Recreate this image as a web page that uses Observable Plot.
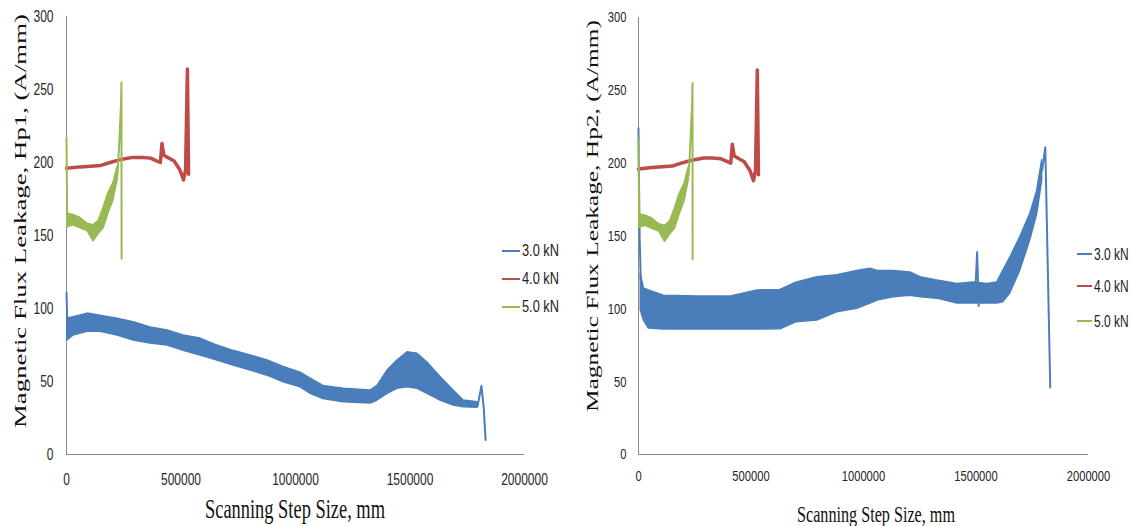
<!DOCTYPE html>
<html><head><meta charset="utf-8">
<script src="https://cdn.jsdelivr.net/npm/d3@7"></script>
<script src="https://cdn.jsdelivr.net/npm/@observablehq/plot@0.6"></script>
<style>
body{margin:0;background:#fff;}
#wrap{position:relative;width:1132px;height:526px;display:flex;overflow:hidden;}
.leg{position:absolute;height:18px;font-family:"Liberation Sans",Arial,sans-serif;color:#222;display:flex;align-items:center;white-space:nowrap;}
.leg .l{display:inline-block;height:2px;margin-right:2px;}
.leg .t{display:inline-block;transform:scale(0.8,1.08);transform-origin:left center;}
</style></head><body><div id="wrap"></div>
<script>
// ---- shared ticks / labels ----
const xTicks = [0, 500000, 1000000, 1500000, 2000000];
const yTicks = [0, 50, 100, 150, 200, 250, 300];
const seriesNames = ["3.0 kN", "4.0 kN", "5.0 kN"];
const seriesColors = ["#4a7ebb", "#be4b48", "#98b954"];
const xTitle = "Scanning Step Size, mm";
const yTitle1 = "Magnetic Flux Leakage, Hp1, (A/mm)";
const yTitle2 = "Magnetic Flux Leakage, Hp2, (A/mm)";

// ---- Hp1, 3.0 kN (noisy band: lower / upper envelope) ----
const hp1_30_x  = [3000, 31000, 92000, 148000, 223000, 293000, 367000, 441000, 511000, 585000, 659000, 729000, 804000, 878000, 948000, 1022000, 1066000, 1122000, 1210000, 1328000, 1358000, 1402000, 1445000, 1489000, 1533000, 1576000, 1633000, 1690000, 1734000, 1795000];
const hp1_30_hi = [93, 94, 96.5, 95, 93, 90.6, 87, 85, 81.5, 79.4, 74.6, 71, 67.8, 64.4, 60, 56, 52, 47, 45, 43.8, 47, 57.5, 64.4, 70, 69, 63, 53, 43.8, 37, 35.8];
const hp1_30_lo = [78, 81.5, 84, 84, 81.5, 78, 76, 74.6, 71, 67.8, 64.4, 61, 57.5, 54, 49.5, 46, 41.6, 38, 35.8, 34.9, 37, 41.6, 45, 46, 45, 41.6, 37, 33.6, 32.4, 32];
const hp1_30_tx = [0, 3000, 6000, 1795000, 1812000, 1822000, 1830000];
const hp1_30_ty = [111, 93, 80, 33, 47, 32, 10];
const hp1_30_seg = [0, 0, 0, 1, 1, 1, 1];

// ---- Hp2, 3.0 kN ----
const hp2_30_x  = [10000, 24000, 46000, 112000, 263000, 410000, 529000, 631000, 701000, 794000, 883000, 972000, 1031000, 1062000, 1133000, 1208000, 1253000, 1328000, 1417000, 1488000, 1550000, 1594000, 1621000, 1652000, 1696000, 1741000, 1772000, 1794000];
const hp2_30_hi = [124, 114, 112.6, 109, 108.4, 108.4, 112.6, 113, 118, 121.7, 123, 126, 127.6, 126, 126, 125, 121.7, 119.4, 117, 118, 117, 118, 126, 135, 149, 165, 181, 202];
const hp2_30_lo = [99, 92, 86.5, 85.8, 85.8, 85.8, 85.8, 86, 90.8, 92, 97.7, 100, 103.6, 105.7, 108, 109, 108, 107, 103.6, 103.6, 103.6, 103.6, 104.5, 110.5, 126, 147, 165, 188];
const hp2_30_tx = [0, 2000, 5000, 10000, 15000, 1495000, 1505000, 1512000, 1794000, 1808000, 1830000];
const hp2_30_ty = [224, 190, 150, 120, 112, 106, 139, 102, 195, 211, 46];
const hp2_30_seg = [0, 0, 0, 0, 0, 1, 1, 1, 2, 2, 2];

// ---- 4.0 kN (same in both panels) ----
const kn40_x = [0, 60000, 150000, 190000, 236000, 290000, 330000, 367000, 395000, 410000, 417000, 425000, 441000, 470000, 495000, 511000, 520000, 528000, 533000];
const kn40_y = [196, 197, 198, 200, 202, 203.5, 203.5, 203, 201, 200, 213, 205, 203.5, 201, 195, 188, 195, 264, 192];

// ---- 5.0 kN (same in both panels) ----
const kn50_bx = [3000, 31000, 61000, 92000, 118000, 140000, 162000, 183000, 205000, 223000];
const kn50_lo = [155.5, 157, 155, 153, 146, 151, 155, 165, 174, 188];
const kn50_hi = [165, 164, 162, 158, 157, 160, 169, 179, 186, 197];
const kn50_tx = [0, 3000, 31000, 61000, 92000, 118000, 140000, 162000, 183000, 205000, 223000, 231000, 238000, 240000, 240500];
const kn50_ty = [217, 160, 160, 158, 155, 152, 155, 162, 172, 180, 192, 215, 240, 255, 134];

const band = (xs, lo, hi) => xs.map((x, i) => ({x, lo: lo[i], hi: hi[i]}));
const pts = (xs, ys, seg) => xs.map((x, i) => ({x, y: ys[i], s: seg ? seg[i] : 0}));

function addTitle(svg, text, cx, cy, size, len, rot) {
  d3.select(svg).append("text")
    .attr("transform", `translate(${cx},${cy})` + (rot ? " rotate(-90)" : ""))
    .attr("text-anchor", "middle")
    .attr("dominant-baseline", "central")
    .attr("font-family", '"Liberation Serif","Times New Roman",serif')
    .attr("font-size", size)
    .attr("fill", "#111")
    .attr("textLength", len)
    .attr("lengthAdjust", "spacingAndGlyphs")
    .text(text);
}

function panel(o) {
  const p = Plot.plot({
    width: 566, height: 526,
    marginLeft: o.ml, marginRight: o.mr, marginTop: o.mt, marginBottom: o.mb,
    x: {domain: [0, 2000000]},
    y: {domain: [0, 300]},
    style: {fontFamily: '"Liberation Sans",Arial,sans-serif', color: "#262626", background: "white", overflow: "visible"},
    marks: [
      Plot.ruleX([0], {stroke: "#8a8a8a", strokeWidth: 1}),
      Plot.ruleY([0], {stroke: "#8a8a8a", strokeWidth: 1}),
      Plot.axisX({ticks: xTicks, tickSize: 0, tickPadding: o.xpad, tickFormat: d => String(d), fontSize: o.fs, label: null}),
      Plot.axisY({ticks: yTicks, tickSize: 0, tickPadding: o.ypad, fontSize: o.fs, label: null}),
      // 3.0 kN
      Plot.areaY(o.blueBand, {x: "x", y1: "lo", y2: "hi", fill: seriesColors[0], stroke: seriesColors[0], strokeWidth: 1.5}),
      Plot.line(o.blueTrace, {x: "x", y: "y", z: "s", stroke: seriesColors[0], strokeWidth: 2}),
      // 4.0 kN
      Plot.line(pts(kn40_x, kn40_y), {x: "x", y: "y", stroke: seriesColors[1], strokeWidth: 3.5}),
      // 5.0 kN
      Plot.areaY(band(kn50_bx, kn50_lo, kn50_hi), {x: "x", y1: "lo", y2: "hi", fill: seriesColors[2], stroke: seriesColors[2], strokeWidth: 1.5}),
      Plot.line(pts(kn50_tx, kn50_ty), {x: "x", y: "y", stroke: seriesColors[2], strokeWidth: 2})
    ]
  });
  // narrow, tall tick labels (Calibri-like look)
  p.querySelectorAll('g[aria-label="x-axis tick label"] text, g[aria-label="y-axis tick label"] text').forEach(t => {
    const tr = t.getAttribute("transform") || "";
    t.setAttribute("transform", tr + " scale(0.8,1.1)");
  });
  addTitle(p, o.ytitle, o.ytx, o.yty, o.ytFs, o.ytLen, true);
  addTitle(p, xTitle, o.xtx, o.xty, o.xtFs, o.xtLen, false);
  return p;
}

const wrap = document.getElementById("wrap");
wrap.appendChild(panel({
  ml: 66, mr: 42, mt: 16, mb: 72, xpad: 19, ypad: 13, fs: 15,
  blueBand: band(hp1_30_x, hp1_30_lo, hp1_30_hi),
  blueTrace: pts(hp1_30_tx, hp1_30_ty, hp1_30_seg),
  ytitle: yTitle1, ytFs: 17, ytLen: 414, ytx: 20, yty: 221,
  xtFs: 27, xtLen: 180, xtx: 295, xty: 509
}));
wrap.appendChild(panel({
  ml: 72, mr: 44, mt: 17, mb: 72, xpad: 16, ypad: 12, fs: 14,
  blueBand: band(hp2_30_x, hp2_30_lo, hp2_30_hi),
  blueTrace: pts(hp2_30_tx, hp2_30_ty, hp2_30_seg),
  ytitle: yTitle2, ytFs: 16, ytLen: 392, ytx: 26, yty: 216,
  xtFs: 24, xtLen: 158, xtx: 310, xty: 514
}));

// legends
function legend(x, ys, fs, lw) {
  seriesNames.forEach((n, i) => {
    const d = document.createElement("div");
    d.className = "leg";
    d.style.left = x + "px";
    d.style.top = (ys[i] - 9) + "px";
    d.style.fontSize = fs + "px";
    d.innerHTML = `<span class="l" style="width:${lw}px;background:${seriesColors[i]}"></span><span class="t">${n}</span>`;
    wrap.appendChild(d);
  });
}
legend(502, [251, 279, 307], 16, 18);
legend(1077, [254, 286, 321], 15, 15);
</script></body></html>
